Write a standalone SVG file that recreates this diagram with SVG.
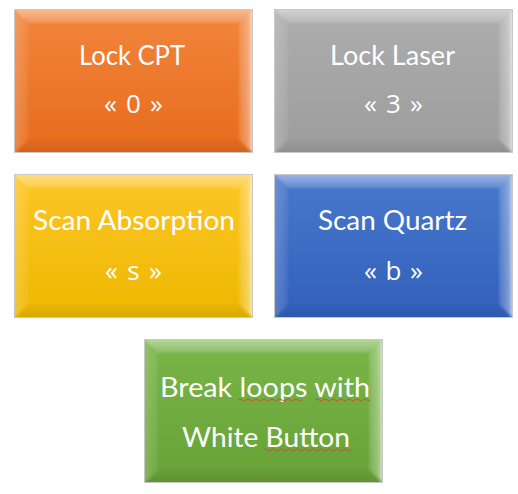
<svg xmlns="http://www.w3.org/2000/svg" width="518" height="494" viewBox="0 0 518 494">
<defs>
<linearGradient id="gOrange" x1="0" y1="0" x2="0" y2="1"><stop offset="0" stop-color="#f2853c"/><stop offset="1" stop-color="#e76c1d"/></linearGradient>
<linearGradient id="gGray" x1="0" y1="0" x2="0" y2="1"><stop offset="0" stop-color="#adadad"/><stop offset="1" stop-color="#9d9d9d"/></linearGradient>
<linearGradient id="gYellow" x1="0" y1="0" x2="0" y2="1"><stop offset="0" stop-color="#fdc526"/><stop offset="1" stop-color="#eeb800"/></linearGradient>
<linearGradient id="gBlue" x1="0" y1="0" x2="0" y2="1"><stop offset="0" stop-color="#4878cc"/><stop offset="1" stop-color="#3260bb"/></linearGradient>
<linearGradient id="gGreen" x1="0" y1="0" x2="0" y2="1"><stop offset="0" stop-color="#79b548"/><stop offset="1" stop-color="#67a237"/></linearGradient>
<linearGradient id="bTop" x1="0" y1="0" x2="0" y2="1"><stop offset="0" stop-color="#fff" stop-opacity="0.5"/><stop offset="1" stop-color="#fff" stop-opacity="0.15"/></linearGradient>
<linearGradient id="bLeft" x1="0" y1="0" x2="1" y2="0"><stop offset="0" stop-color="#fff" stop-opacity="0.22"/><stop offset="1" stop-color="#fff" stop-opacity="0.06"/></linearGradient>
<linearGradient id="bRight" x1="0" y1="0" x2="1" y2="0"><stop offset="0" stop-color="#fff" stop-opacity="0.12"/><stop offset="0.6" stop-color="#fff" stop-opacity="0.35"/><stop offset="1" stop-color="#fff" stop-opacity="0.9"/></linearGradient>
<linearGradient id="bBottom" x1="0" y1="0" x2="0" y2="1"><stop offset="0" stop-color="#000" stop-opacity="0.02"/><stop offset="1" stop-color="#000" stop-opacity="0.1"/></linearGradient>
<filter id="soft" x="-5%" y="-5%" width="110%" height="110%"><feGaussianBlur stdDeviation="1.2"/></filter>
<clipPath id="boxClip"><rect x="0" y="0" width="237" height="142"/></clipPath>
<g id="bevel" clip-path="url(#boxClip)"><g filter="url(#soft)">
<path d="M-3,-3 L240,-3 L224,13 L13,13 Z" fill="url(#bTop)"/>
<path d="M-3,-3 L13,13 L13,129 L-3,145 Z" fill="url(#bLeft)"/>
<path d="M240,-3 L240,145 L224,129 L224,13 Z" fill="url(#bRight)"/>
<path d="M-3,145 L13,129 L224,129 L240,145 Z" fill="url(#bBottom)"/>
</g></g>
</defs>
<style>
.face{stroke:none}
.edge{fill:none;stroke:#c8c8c8;stroke-width:1}
.t{font-family:Lato,"Open Sans","Noto Sans",sans-serif;font-size:26px;fill:#ffffff;text-anchor:middle}
.k{font-family:"Open Sans","Noto Sans",sans-serif;font-size:26px;fill:#ffffff;text-anchor:middle}
.sq{fill:none;stroke:#d0503a;stroke-width:1}
</style>
<g id="lock-cpt" transform="translate(15,10)">
<rect class="face" x="0" y="0" width="237" height="142" fill="url(#gOrange)"/>
<use href="#bevel"/>
<rect class="edge" x="-0.5" y="-0.5" width="238" height="143"/>
<text class="t" x="117" y="55" textLength="106" lengthAdjust="spacingAndGlyphs">Lock CPT</text>
<text class="k" x="118.5" y="103" textLength="59" lengthAdjust="spacing">« 0 »</text>
</g>
<g id="lock-laser" transform="translate(275,10)">
<rect class="face" x="0" y="0" width="237" height="142" fill="url(#gGray)"/>
<use href="#bevel"/>
<rect class="edge" x="-0.5" y="-0.5" width="238" height="143"/>
<text class="t" x="117.5" y="55" textLength="125" lengthAdjust="spacingAndGlyphs">Lock Laser</text>
<text class="k" x="118.5" y="103" textLength="59" lengthAdjust="spacing">« 3 »</text>
</g>
<g id="scan-absorption" transform="translate(15,175)">
<rect class="face" x="0" y="0" width="237" height="142" fill="url(#gYellow)"/>
<use href="#bevel"/>
<rect class="edge" x="-0.5" y="-0.5" width="238" height="143"/>
<text class="t" x="119" y="55" textLength="202" lengthAdjust="spacingAndGlyphs">Scan Absorption</text>
<text class="k" x="118.5" y="105" textLength="57" lengthAdjust="spacing">« s »</text>
</g>
<g id="scan-quartz" transform="translate(275,175)">
<rect class="face" x="0" y="0" width="237" height="142" fill="url(#gBlue)"/>
<use href="#bevel"/>
<rect class="edge" x="-0.5" y="-0.5" width="238" height="143"/>
<text class="t" x="117.5" y="55" textLength="149" lengthAdjust="spacingAndGlyphs">Scan Quartz</text>
<text class="k" x="118.5" y="105" textLength="59" lengthAdjust="spacing">« b »</text>
</g>
<g id="break-loops" transform="translate(145,340)">
<rect class="face" x="0" y="0" width="237" height="142" fill="url(#gGreen)"/>
<use href="#bevel"/>
<rect class="edge" x="-0.5" y="-0.5" width="238" height="143"/>
<text class="t" x="120" y="57" textLength="210" lengthAdjust="spacingAndGlyphs">Break loops with</text>
<text class="t" x="121" y="107" textLength="168" lengthAdjust="spacingAndGlyphs">White Button</text>
<path class="sq" d="M93,60 q2,-2 4,0 t4,0 t4,0 t4,0 t4,0 t4,0 t4,0 t4,0 t4,0 t4,0 t4,0 t4,0 t4,0 t4,0 t4,0 t4,0"/>
<path class="sq" d="M170,60 q2,-2 4,0 t4,0 t4,0 t4,0 t4,0 t4,0 t4,0 t4,0 t4,0 t4,0 t4,0 t4,0 t4,0 t3,0"/>
<path class="sq" d="M118,110 q2,-2 4,0 t4,0 t4,0 t4,0 t4,0 t4,0 t4,0 t4,0 t4,0 t4,0 t4,0 t4,0 t4,0 t4,0 t4,0 t4,0 t4,0 t4,0 t4,0 t4,0 t4,0 t4,0"/>
</g>
</svg>
